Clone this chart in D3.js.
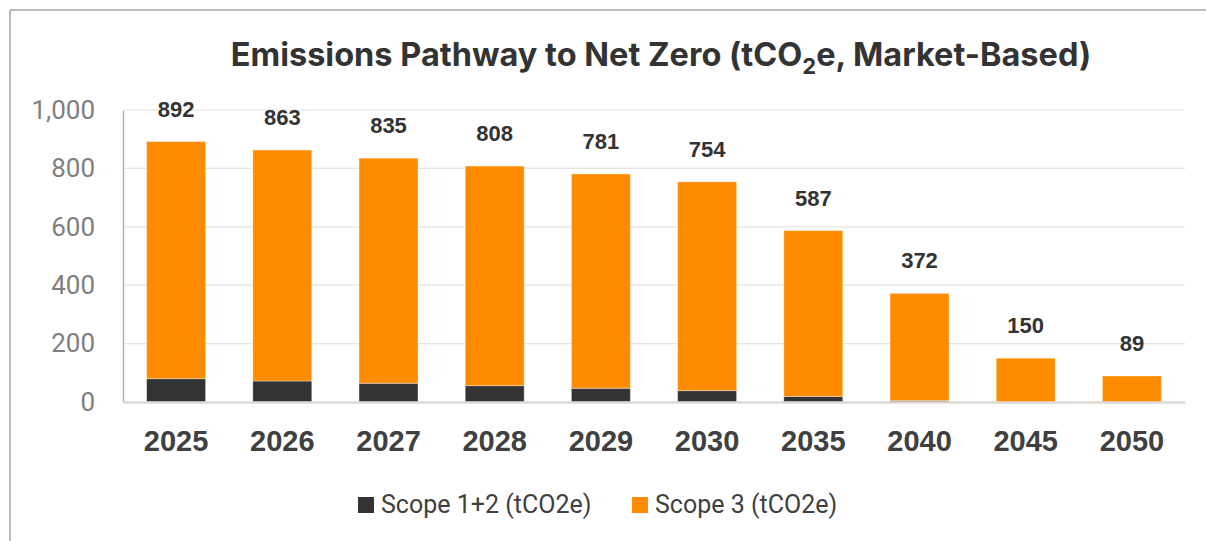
<!DOCTYPE html>
<html>
<head>
<meta charset="utf-8">
<script src="https://cdn.jsdelivr.net/npm/d3@7"></script>
<style>
  html, body { margin: 0; padding: 0; background: #fff; }
  svg { display: block; }
</style>
</head>
<body>
<svg id="chart" width="1206" height="541"></svg>
<script>
// Trajectoire d'émissions : barres empilées Scope 1+2 / Scope 3
const years = ['2025', '2026', '2027', '2028', '2029', '2030', '2035', '2040', '2045', '2050'];
const totals = [892, 863, 835, 808, 781, 754, 587, 372, 150, 89];
const scope12 = [80, 72, 64, 56, 47, 39, 19, 5, 0, 0];
const scope3 = totals.map((t, i) => t - scope12[i]);
const yTicks = [0, 200, 400, 600, 800, 1000];
const seriesNames = ['Scope 1+2 (tCO2e)', 'Scope 3 (tCO2e)'];
const seriesColors = ['#333333', '#FF8C00'];

const W = 1206, H = 541;
const PLOT = { left: 123, right: 1185, top: 110, bottom: 402 };

const svg = d3.select('#chart');

// cadre (seuls les bords haut et gauche sont visibles)
svg.append('line').attr('x1', 10).attr('x2', W).attr('y1', 10).attr('y2', 10).attr('stroke', '#a6a6a6').attr('stroke-width', 1.5);
svg.append('line').attr('x1', 10).attr('x2', 10).attr('y1', 10).attr('y2', H).attr('stroke', '#a6a6a6').attr('stroke-width', 1.5);

const x = d3.scaleBand().domain(years).range([PLOT.left, PLOT.right]).paddingInner(0.445).paddingOuter(0.2225);
const y = d3.scaleLinear().domain([0, 1000]).range([PLOT.bottom, PLOT.top]);

// grille
svg.append('g').selectAll('line').data(yTicks.filter(d => d > 0)).join('line')
  .attr('x1', PLOT.left).attr('x2', PLOT.right)
  .attr('y1', d => y(d)).attr('y2', d => y(d))
  .attr('stroke', '#e6e4e0').attr('stroke-width', 1.2);

// axe Y
const yAxis = svg.append('g').attr('transform', `translate(${PLOT.left},0)`)
  .call(d3.axisLeft(y).tickValues(yTicks).tickFormat(d3.format(',')).tickSize(0).tickPadding(28));
yAxis.select('.domain').attr('stroke', '#b3b3b3').attr('stroke-width', 1.5);
yAxis.selectAll('text')
  .style('font-family', 'Roboto, "Liberation Sans", sans-serif')
  .style('font-size', '26px').style('fill', '#7f7f7f');

// barres empilées
const stackData = years.map((yr, i) => ({ year: yr, s12: scope12[i], s3: scope3[i] }));
const stacked = d3.stack().keys(['s12', 's3'])(stackData);

svg.append('g').selectAll('g').data(stacked).join('g')
  .attr('fill', (d, i) => seriesColors[i])
  .selectAll('rect').data(d => d).join('rect')
  .attr('x', d => x(d.data.year))
  .attr('width', x.bandwidth())
  .attr('y', d => y(d[1]))
  .attr('height', d => y(d[0]) - y(d[1]))
  .attr('stroke', 'rgba(255,255,255,0.35)').attr('stroke-width', 1);

// axe X
const xAxis = svg.append('g').attr('transform', `translate(0,${PLOT.bottom})`)
  .call(d3.axisBottom(x).tickSize(0).tickPadding(28));
xAxis.select('.domain').attr('stroke', '#dcd9d5').attr('stroke-width', 2.5);
xAxis.selectAll('text')
  .style('font-family', '"Liberation Sans", Arial, sans-serif')
  .style('font-size', '29px').style('font-weight', 'bold').style('fill', '#404040');

// étiquettes de total
svg.append('g').selectAll('text').data(years).join('text')
  .attr('x', d => x(d) + x.bandwidth() / 2)
  .attr('y', (d, i) => y(totals[i]) - 25)
  .attr('text-anchor', 'middle')
  .style('font-family', '"Liberation Sans", Arial, sans-serif')
  .style('font-size', '22px').style('font-weight', 'bold').style('fill', '#333333')
  .text((d, i) => d3.format(',')(totals[i]));

// titre
const title = svg.append('text').attr('x', 661).attr('y', 66).attr('text-anchor', 'middle')
  .style('font-family', 'Inter, "Open Sans", sans-serif')
  .style('font-size', '32.5px').style('font-weight', 'bold').style('fill', '#333333');
title.append('tspan').text('Emissions Pathway to Net Zero (tCO');
title.append('tspan').attr('dy', 8).style('font-size', '22px').text('2');
title.append('tspan').attr('dy', -8).text('e, Market-Based)');

// légende
const legend = svg.append('g');
const legendX = [358, 632];
seriesNames.forEach((name, i) => {
  legend.append('rect').attr('x', legendX[i]).attr('y', 497).attr('width', 16).attr('height', 16).attr('fill', seriesColors[i]);
  legend.append('text').attr('x', legendX[i] + 23).attr('y', 513)
    .style('font-family', 'Roboto, "Liberation Sans", sans-serif')
    .style('font-size', '25px').style('fill', '#404040')
    .text(name);
});
</script>
</body>
</html>
